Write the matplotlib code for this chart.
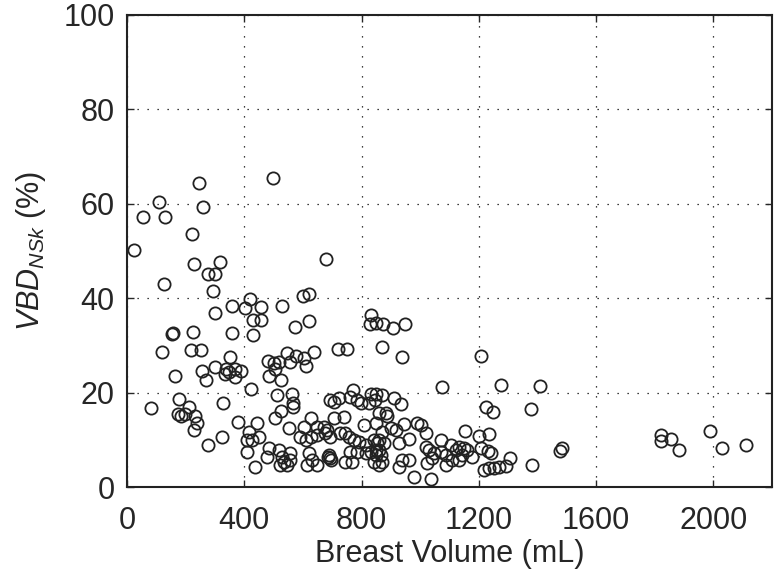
import matplotlib
matplotlib.use("Agg")
import matplotlib.pyplot as plt

plt.rcParams['font.family'] = ['Liberation Sans', 'DejaVu Sans']
plt.rcParams['mathtext.fontset'] = 'custom'
plt.rcParams['mathtext.rm'] = 'Liberation Sans'
plt.rcParams['mathtext.it'] = 'Liberation Sans:italic'

# breast volume (mL) and VBD_NSk (%)
upper_vol = [246, 497, 108, 260, 54, 128, 220, 24, 678, 230, 316, 275, 301, 125, 292,
             419, 600, 622, 357, 404, 456, 528, 301, 428, 456, 622, 572, 155, 158, 226,
             357, 431, 118, 219, 253, 350, 481, 544, 577, 602, 637, 718, 749, 500, 520,
             555, 612, 165, 255, 270, 301, 338, 349, 367, 367, 389, 335, 483, 505, 526,
             423, 512, 563, 565, 565, 176, 82, 326, 210, 173, 185, 199, 232, 238, 227,
             276, 325, 378, 409, 426, 415, 409, 438, 449, 445, 505, 525, 551]
upper_vbd = [64.3, 65.5, 60.4, 59.3, 57.2, 57.1, 53.7, 50.3, 48.2, 47.3, 47.6, 45.2, 45.1, 43.0, 41.5,
             39.8, 40.5, 40.8, 38.4, 37.9, 38.2, 38.3, 36.9, 35.3, 35.3, 35.2, 33.8, 32.4, 32.7, 32.9,
             32.6, 32.2, 28.6, 29.1, 29.1, 27.5, 26.8, 28.3, 27.8, 27.4, 28.7, 29.2, 29.2, 26.2, 26.4,
             26.5, 25.6, 23.5, 24.6, 22.7, 25.4, 25.1, 24.4, 24.9, 23.4, 24.5, 23.9, 23.5, 25.1, 22.6,
             20.8, 19.4, 19.7, 17.8, 17.0, 18.6, 16.7, 17.9, 17.0, 15.4, 15.0, 15.4, 15.0, 13.5, 12.1,
             9.0, 10.7, 13.7, 10.0, 10.0, 11.7, 7.5, 4.3, 10.7, 13.5, 14.6, 16.0, 12.4]

mid_vol = [694, 705, 724, 762, 772, 785, 797, 825, 833, 848, 845, 871, 910, 933,
           626, 705, 740, 808, 848, 603, 649, 671, 683, 859, 888, 882, 945, 990, 1002,
           1019, 899, 916, 871,
           591, 609, 626, 649, 677, 694, 728, 745, 757, 774, 791, 814, 842, 853, 859,
           877, 928, 962, 1070, 1153, 1199, 1235,
           833, 828, 848, 874, 908, 949, 870, 937]
mid_vbd = [18.4, 18.1, 18.8, 19.1, 20.6, 18.5, 17.7, 17.7, 19.7, 19.6, 18.4, 19.5, 18.8, 17.5,
           14.6, 14.6, 14.9, 13.1, 13.5, 12.8, 12.8, 12.8, 12.1, 15.6, 15.0, 15.6, 13.3, 13.6, 13.1,
           11.4, 12.4, 12.1, 11.7,
           10.7, 10.0, 10.7, 11.0, 11.4, 10.7, 11.4, 11.4, 10.7, 10.0, 9.6, 8.9, 10.0, 9.3, 10.0,
           9.3, 9.4, 10.1, 10.0, 11.9, 10.8, 11.2,
           36.4, 34.5, 34.8, 34.5, 33.6, 34.5, 29.6, 27.6]

low_vol = [483, 478, 517, 529, 534, 523, 557, 557, 546, 620, 631, 614, 649, 686, 690, 692,
           697, 762, 785, 745, 768, 814, 831, 848, 842, 848, 859, 865, 859, 871, 939, 962,
           928, 1019, 1030, 1047, 1070, 1087, 1104, 1121, 1133, 1150, 1144, 1161, 1178, 1207,
           1230, 1241, 1041, 1024, 1087, 1110, 1133, 1218, 1235, 1252, 1269, 1292, 1306, 979, 1036]
low_vbd = [8.2, 6.4, 7.8, 6.4, 5.4, 4.7, 5.7, 7.1, 4.7, 7.1, 5.7, 4.7, 4.7, 6.4, 6.8, 6.1,
           5.8, 7.5, 7.5, 5.4, 5.4, 7.1, 7.5, 6.8, 5.4, 7.8, 7.8, 6.8, 4.7, 5.4, 5.7, 5.7,
           4.3, 8.5, 7.8, 7.1, 7.5, 6.8, 8.9, 7.8, 8.5, 8.2, 6.8, 7.8, 6.4, 8.2,
           7.7, 7.1, 6.1, 5.0, 4.7, 5.7, 5.7, 3.7, 4.0, 4.0, 4.3, 4.4, 6.2, 2.1, 1.6]

right_vol = [1076, 1276, 1410, 1224, 1247, 1378, 1381, 1478, 1484, 1820, 1820, 1856,
             1883, 1987, 2029, 2110, 1206]
right_vbd = [21.2, 21.6, 21.5, 17.0, 15.8, 16.5, 4.7, 7.6, 8.2, 11.0, 9.7, 10.1,
             7.8, 11.9, 8.3, 8.8, 27.8]

vol = upper_vol + mid_vol + low_vol + right_vol
vbd = upper_vbd + mid_vbd + low_vbd + right_vbd

fig = plt.figure(figsize=(7.76, 5.76), dpi=100)
ax = fig.add_axes([0.1637, 0.1545, 0.8311, 0.8195])

ax.plot(vol, vbd, 'o', markerfacecolor='none', markeredgecolor='#222222',
        markersize=8.8, markeredgewidth=1.3, linestyle='none')

ax.set_xlim(0, 2200)
ax.set_ylim(0, 100)
ax.set_xticks([0, 400, 800, 1200, 1600, 2000])
ax.set_yticks([0, 20, 40, 60, 80, 100])
ax.grid(True, color='black', linestyle=(0, (1, 7)), linewidth=0.9)
ax.tick_params(direction='in', length=5, width=1.0, top=True, right=True,
               labelsize=22, colors='#262626')
ax.tick_params(axis='x', pad=14)
ax.tick_params(axis='y', pad=9)
for sp in ax.spines.values():
    sp.set_linewidth(1.5)
    sp.set_color('#222222')

ax.set_xlabel('Breast Volume (mL)', fontsize=22, color='#262626', labelpad=2)
ax.set_ylabel(r'$\mathit{VBD}_{\mathit{NSk}}$ (%)', fontsize=22, color='#262626', labelpad=11)

fig.savefig('out.png', dpi=100)
